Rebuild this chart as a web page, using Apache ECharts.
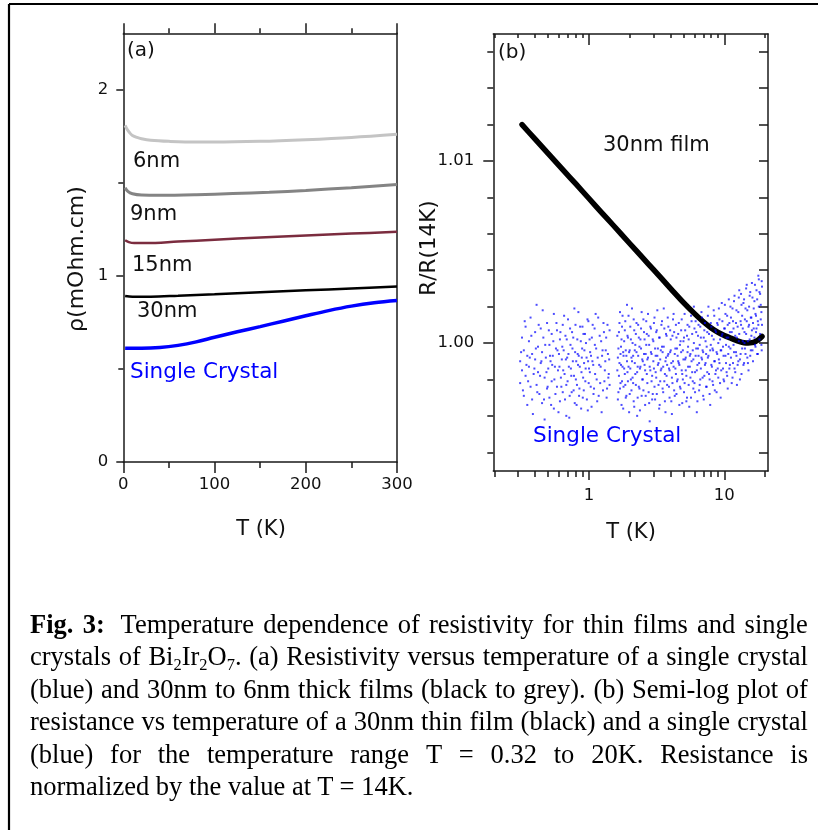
<!DOCTYPE html>
<html><head><meta charset="utf-8">
<script src="https://cdn.jsdelivr.net/npm/echarts@6/dist/echarts.min.js"></script>
<style>
html,body{margin:0;padding:0;background:#fff;}
#wrap{position:relative;width:818px;height:830px;overflow:hidden;background:#fff;}
#chart{position:absolute;left:0;top:0;width:818px;height:830px;}
#caption{position:absolute;left:30px;top:608px;width:778px;font-family:'Liberation Serif','Times New Roman',serif;font-size:26.5px;line-height:32.4px;color:#000;}
.ln{display:flex;justify-content:space-between;white-space:nowrap;}
.last{white-space:nowrap;word-spacing:0;}
sub{font-size:0.62em;vertical-align:baseline;position:relative;top:0.28em;line-height:0;}
</style></head>
<body><div id="wrap"><div id="chart"></div><div id="caption"></div></div>
<script>
// ---------- Panel (a): resistivity (mOhm.cm) vs T (K) ----------
const rho6nm  = [[2,1.810],[4,1.790],[7,1.770],[10,1.756],[15,1.745],[20,1.738],[30,1.730],[50,1.724],[80,1.720],[100,1.720],[150,1.724],[200,1.733],[250,1.745],[300,1.762]];
const rho9nm  = [[2,1.475],[5,1.455],[10,1.442],[20,1.435],[40,1.434],[80,1.437],[120,1.443],[160,1.450],[200,1.460],[250,1.475],[300,1.492]];
const rho15nm = [[2,1.192],[6,1.182],[12,1.177],[25,1.177],[60,1.185],[100,1.195],[150,1.207],[200,1.218],[250,1.228],[300,1.238]];
const rho30nm = [[2,0.893],[10,0.889],[30,0.889],[60,0.894],[100,0.902],[150,0.913],[200,0.923],[250,0.933],[300,0.943]];
const rhoCrystal = [[2,0.612],[20,0.611],[40,0.615],[60,0.627],[80,0.646],[100,0.671],[125,0.700],[150,0.728],[175,0.757],[200,0.786],[225,0.814],[250,0.838],[275,0.856],[300,0.868]];

const seriesNamesA = ['6nm','9nm','15nm','30nm','Single Crystal'];
const ticksAy = [0,1,2];
const minorAy = [0.5,1.5];

// ---------- Panel (b): R/R(14K) vs T (K), log T ----------
const film30 = [[0.32,1.01200],[0.4,1.01120],[0.5,1.01041],[0.65,1.00947],[0.8,1.00874],[1.0,1.00794],[1.25,1.00714],[1.5,1.00650],[2.0,1.00547],[2.5,1.00468],[3.0,1.00403],[3.5,1.00348],[4.2,1.00283],[5.0,1.00222],[6.0,1.00163],[7.0,1.00117],[8.0,1.00083],[9.0,1.00059],[10,1.00042],[11,1.00029],[12,1.00017],[13,1.00008],[14,1.00002],[15,1.00000],[16,1.00002],[17,1.00009],[18,1.00020],[19,1.00036]];

// single crystal, T < 1.5 K : [T, R/R14K]
const crystalLow = [[0.31,0.9990],[0.31,0.9978],[0.32,1.0003],[0.32,0.9985],[0.33,0.9971],[0.33,0.9996],[0.34,1.0009],[0.34,0.9982],[0.35,0.9993],[0.35,0.9966],[0.36,1.0001],[0.36,0.9987],[0.37,0.9976],[0.37,1.0014],[0.38,0.9994],[0.38,0.9969],[0.39,0.9983],[0.40,1.0006],[0.40,0.9991],[0.41,0.9977],[0.41,1.0021],[0.42,0.9998],[0.42,0.9984],[0.43,0.9972],[0.44,1.0008],[0.44,0.9989],[0.45,0.9995],[0.45,0.9967],[0.46,1.0003],[0.47,0.9981],[0.47,0.9958],[0.48,0.9992],[0.49,1.0011],[0.49,0.9975],[0.50,0.9986],[0.51,0.9999],[0.51,0.9970],[0.52,0.9990],[0.53,1.0005],[0.53,0.9979],[0.54,0.9993],[0.55,0.9964],[0.55,1.0016],[0.56,0.9987],[0.57,0.9997],[0.58,0.9976],[0.58,1.0007],[0.59,0.9985],[0.60,0.9994],[0.61,0.9968],[0.61,1.0002],[0.62,0.9981],[0.63,0.9991],[0.64,1.0010],[0.64,0.9973],[0.65,0.9996],[0.66,0.9983],[0.67,1.0004],[0.68,0.9977],[0.68,0.9960],[0.69,0.9992],[0.70,1.0013],[0.71,0.9987],[0.72,0.9971],[0.73,0.9999],[0.74,0.9982],[0.75,1.0006],[0.76,0.9990],[0.77,0.9974],[0.78,1.0019],[0.79,0.9995],[0.80,0.9980],[0.81,0.9966],[0.82,1.0002],[0.83,0.9988],[0.84,0.9993],[0.85,0.9975],[0.86,1.0009],[0.88,0.9984],[0.89,0.9997],[0.90,0.9970],[0.91,1.0005],[0.92,0.9989],[0.94,0.9979],[0.95,1.0000],[0.96,0.9992],[0.98,0.9963],[0.99,1.0012],[1.00,0.9986],[1.02,0.9995],[1.03,0.9976],[1.05,1.0003],[1.06,0.9990],[1.08,0.9972],[1.10,1.0008],[1.11,0.9983],[1.13,0.9997],[1.15,0.9968],[1.17,1.0014],[1.19,0.9988],[1.21,0.9978],[1.23,1.0001],[1.25,0.9993],[1.27,0.9974],[1.29,1.0006],[1.31,0.9985],[1.33,0.9996],[1.35,0.9970],[1.37,1.0010],[1.39,0.9981],[1.41,0.9991],[1.42,0.9977]];
const crystalLow2 = [[0.315,0.9995],[0.325,0.9974],[0.335,1.0012],[0.345,0.9988],[0.355,0.9979],[0.365,0.9992],[0.375,1.0004],[0.385,0.9961],[0.395,0.9986],[0.405,0.9997],[0.415,0.9973],[0.425,1.0010],[0.435,0.9982],[0.445,0.9990],[0.455,1.0018],[0.465,0.9969],[0.475,0.9999],[0.485,0.9984],[0.495,0.9976],[0.505,1.0007],[0.515,0.9993],[0.525,0.9966],[0.535,0.9988],[0.545,1.0001],[0.555,0.9980],[0.565,0.9972],[0.575,1.0011],[0.585,0.9996],[0.595,0.9962],[0.605,0.9987],[0.615,1.0006],[0.625,0.9976],[0.635,0.9998],[0.645,0.9985],[0.655,1.0015],[0.665,0.9969],[0.675,0.9991],[0.685,1.0002],[0.695,0.9979],[0.705,0.9994],[0.715,0.9959],[0.725,1.0008],[0.735,0.9986],[0.745,0.9973],[0.755,0.9997],[0.765,1.0003],[0.775,0.9982],[0.785,0.9967],[0.795,1.0010],[0.805,0.9990],[0.815,0.9977],[0.825,0.9994],[0.835,1.0017],[0.845,0.9971],[0.855,0.9987],[0.87,1.0001],[0.875,0.9964],[0.885,0.9992],[0.895,1.0009],[0.905,0.9981],[0.915,0.9974],[0.925,0.9996],[0.935,1.0005],[0.945,0.9986],[0.965,0.9969],[0.975,1.0013],[0.985,0.9990],[0.995,0.9978],[1.01,1.0002],[1.015,0.9984],[1.035,0.9993],[1.045,0.9965],[1.065,1.0010],[1.075,0.9988],[1.09,0.9975],[1.105,0.9999],[1.12,1.0016],[1.14,0.9980],[1.16,0.9992],[1.18,0.9971],[1.20,1.0004],[1.22,0.9987],[1.24,0.9962],[1.26,0.9996],[1.28,1.0011],[1.30,0.9979],[1.32,0.9990],[1.34,1.0003],[1.36,0.9975],[1.38,0.9994],[1.40,0.9983],[1.42,1.0007]];

// single crystal, T > 1.6 K : [T, R/R14K (point 1), R/R14K (point 2)]
const crystalHigh = [[1.62,0.9985,1.0004],[1.65,0.9997,0.9973],[1.68,1.0011,0.9989],[1.71,0.9978,0.9994],[1.74,1.0002,0.9966],[1.77,0.9987,1.0015],[1.80,0.9993,0.9976],[1.84,1.0007,0.9983],[1.87,0.9970,0.9996],[1.91,0.9990,1.0021],[1.94,0.9979,1.0003],[1.98,0.9995,0.9962],[2.02,1.0009,0.9986],[2.06,0.9974,0.9992],[2.10,1.0000,0.9981],[2.14,0.9968,1.0013],[2.18,0.9989,0.9996],[2.22,1.0005,0.9977],[2.27,0.9984,0.9960],[2.31,0.9993,1.0010],[2.36,0.9975,0.9998],[2.40,1.0002,0.9987],[2.45,0.9971,1.0017],[2.50,0.9990,0.9980],[2.55,1.0006,0.9994],[2.60,0.9966,0.9985],[2.65,0.9999,1.0012],[2.70,0.9978,0.9991],[2.76,1.0004,0.9973],[2.81,0.9987,0.9957],[2.87,0.9995,1.0008],[2.93,0.9982,0.9969],[2.99,1.0001,0.9990],[3.05,0.9976,1.0014],[3.11,0.9993,0.9984],[3.17,1.0007,0.9972],[3.23,0.9988,0.9997],[3.30,0.9964,1.0003],[3.36,0.9991,0.9979],[3.43,1.0010,0.9986],[3.50,0.9975,0.9995],[3.57,0.9998,1.0019],[3.64,0.9983,0.9968],[3.71,1.0005,0.9992],[3.78,0.9977,0.9988],[3.86,0.9994,1.0009],[3.94,0.9970,0.9985],[4.02,1.0002,0.9996],[4.10,0.9981,0.9961],[4.18,0.9990,1.0013],[4.26,1.0006,0.9974],[4.35,0.9986,0.9997],[4.43,0.9972,1.0003],[4.52,0.9993,0.9980],[4.61,1.0011,0.9989],[4.70,0.9976,0.9999],[4.80,0.9995,1.0007],[4.89,0.9983,0.9967],[4.99,1.0001,0.9991],[5.09,0.9978,1.0016],[5.19,0.9992,0.9985],[5.30,1.0004,0.9970],[5.40,0.9987,0.9998],[5.51,0.9965,1.0009],[5.62,0.9994,0.9981],[5.73,1.0012,0.9990],[5.85,0.9979,0.9996],[5.96,1.0000,1.0020],[6.08,0.9984,0.9973],[6.20,0.9997,1.0006],[6.33,0.9988,0.9968],[6.45,1.0010,0.9993],[6.58,0.9977,0.9999],[6.71,1.0003,0.9986],[6.85,0.9991,1.0014],[6.98,0.9971,0.9995],[7.12,1.0007,0.9982],[7.27,0.9989,1.0001],[7.41,0.9998,0.9976],[7.56,1.0015,0.9992],[7.71,0.9983,1.0005],[7.87,0.9996,0.9966],[8.02,1.0009,0.9988],[8.18,0.9979,0.9997],[8.35,1.0002,1.0018],[8.51,0.9990,0.9974],[8.68,1.0006,0.9985],[8.86,0.9994,1.0011],[9.03,0.9981,1.0000],[9.21,1.0013,0.9989],[9.40,0.9996,0.9970],[9.58,1.0004,1.0022],[9.78,0.9986,0.9998],[9.97,1.0008,0.9979],[10.2,0.9993,1.0016],[10.4,1.0003,0.9984],[10.6,0.9975,1.0010],[10.8,0.9998,1.0024],[11.0,1.0006,0.9988],[11.2,0.9992,1.0014],[11.5,1.0019,0.9981],[11.7,0.9999,1.0008],[11.9,0.9986,1.0026],[12.2,1.0011,0.9995],[12.4,0.9977,1.0003],[12.7,1.0017,0.9990],[12.9,1.0005,1.0029],[13.2,0.9994,1.0012],[13.4,1.0021,0.9983],[13.7,1.0001,1.0008],[14.0,0.9989,1.0024],[14.2,1.0013,0.9997],[14.5,1.0030,1.0005],[14.8,0.9992,1.0018],[15.1,1.0009,0.9985],[15.4,1.0026,1.0002],[15.7,0.9996,1.0014],[16.0,1.0033,1.0007],[16.3,1.0011,0.9990],[16.7,1.0023,1.0003],[17.0,0.9998,1.0016],[17.3,1.0029,1.0008],[17.7,1.0012,0.9994],[18.0,1.0035,1.0020],[18.4,1.0005,1.0027],[18.8,1.0017,0.9999],[19.0,1.0031,1.0010]];
const crystalHigh2 = [[1.635,0.9992,0.9969],[1.665,1.0006,0.9982],[1.695,0.9975,1.0017],[1.725,0.9988,0.9998],[1.755,1.0009,0.9979],[1.79,0.9964,0.9995],[1.82,1.0001,0.9986],[1.855,0.9977,1.0012],[1.89,0.9993,0.9971],[1.925,1.0004,0.9984],[1.96,0.9987,1.0015],[2.00,0.9972,0.9996],[2.04,1.0002,0.9980],[2.08,0.9990,1.0019],[2.12,0.9978,0.9993],[2.16,1.0007,0.9965],[2.20,0.9983,0.9999],[2.245,0.9995,1.0011],[2.29,0.9970,0.9987],[2.335,1.0003,0.9976],[2.38,0.9986,0.9963],[2.425,0.9997,1.0008],[2.475,0.9980,0.9991],[2.525,1.0013,0.9974],[2.575,0.9988,1.0002],[2.625,0.9971,0.9994],[2.675,1.0005,0.9983],[2.73,0.9992,1.0016],[2.785,0.9967,0.9999],[2.84,1.0009,0.9985],[2.90,0.9979,0.9994],[2.96,1.0002,0.9972],[3.02,0.9986,1.0011],[3.08,0.9969,0.9997],[3.14,1.0006,0.9981],[3.20,0.9993,1.0018],[3.265,0.9977,0.9989],[3.33,1.0003,0.9966],[3.395,0.9985,0.9996],[3.465,0.9998,1.0012],[3.535,0.9973,0.9987],[3.605,1.0008,0.9979],[3.675,0.9990,0.9962],[3.745,0.9982,1.0004],[3.82,1.0014,0.9993],[3.90,0.9976,0.9986],[3.98,0.9995,1.0007],[4.06,0.9968,0.9989],[4.14,1.0004,0.9978],[4.22,0.9987,1.0016],[4.305,0.9994,0.9971],[4.39,1.0010,0.9983],[4.475,0.9979,0.9997],[4.565,0.9990,1.0005],[4.655,0.9966,0.9988],[4.75,1.0001,0.9975],[4.845,0.9985,1.0013],[4.94,0.9996,0.9980],[5.04,0.9973,1.0003],[5.14,1.0007,0.9991],[5.245,0.9982,0.9968],[5.35,0.9995,1.0010],[5.455,1.0002,0.9977],[5.565,0.9987,0.9993],[5.675,0.9970,1.0015],[5.79,1.0005,0.9984],[5.905,0.9991,0.9975],[6.02,0.9978,1.0008],[6.14,1.0012,0.9993],[6.265,0.9985,0.9962],[6.39,0.9997,1.0004],[6.515,0.9974,0.9989],[6.645,1.0009,0.9980],[6.78,0.9992,1.0017],[6.915,0.9981,0.9996],[7.05,1.0003,0.9969],[7.195,0.9988,1.0011],[7.34,0.9976,0.9994],[7.485,1.0006,0.9984],[7.635,0.9993,1.0020],[7.79,0.9980,0.9972],[7.945,1.0011,0.9999],[8.10,0.9987,1.0004],[8.265,0.9996,0.9977],[8.43,1.0015,0.9990],[8.595,0.9983,1.0007],[8.77,0.9973,0.9995],[8.945,1.0010,0.9986],[9.12,0.9991,1.0019],[9.305,1.0002,0.9978],[9.49,0.9985,0.9996],[9.68,1.0012,1.0005],[9.875,0.9980,0.9993],[10.1,1.0008,1.0021],[10.3,0.9989,0.9999],[10.5,1.0015,0.9982],[10.7,1.0003,0.9994],[10.9,0.9986,1.0011],[11.1,1.0020,0.9997],[11.35,0.9978,1.0006],[11.6,1.0012,0.9989],[11.8,0.9995,1.0023],[12.05,1.0004,0.9984],[12.3,1.0018,0.9993],[12.55,0.9988,1.0009],[12.8,1.0025,1.0001],[13.05,0.9991,0.9980],[13.3,1.0010,1.0027],[13.55,0.9997,1.0015],[13.85,1.0022,0.9988],[14.1,1.0006,1.0000],[14.35,0.9994,1.0019],[14.65,1.0012,1.0032],[14.95,1.0001,0.9989],[15.25,1.0020,1.0010],[15.55,0.9993,1.0028],[15.85,1.0014,1.0004],[16.15,1.0025,0.9996],[16.5,1.0008,1.0019],[16.85,1.0032,0.9999],[17.15,1.0015,1.0006],[17.5,0.9994,1.0024],[17.85,1.0010,1.0037],[18.2,1.0028,1.0002],[18.6,1.0013,1.0021],[18.9,0.9996,1.0034]];

const ticksBx = [1,10];
const minorBx = [0.2,0.3,0.4,0.5,0.6,0.7,0.8,0.9,2,3,4,5,6,7,8,9,20];
const ticksBy = [1.00,1.01];
const minorBy = [0.994,0.996,0.998,1.002,1.004,1.006,1.008,1.012,1.014,1.016];
const allBy = [0.994,0.996,0.998,1.000,1.002,1.004,1.006,1.008,1.010,1.012,1.014,1.016];

// ---------- Caption ----------
const captionLines = [
  '<b>Fig.</b> <b>3:</b>&nbsp; Temperature dependence of resistivity for thin films and single',
  'crystals of Bi<sub>2</sub>Ir<sub>2</sub>O<sub>7</sub>. (a) Resistivity versus temperature of a single crystal',
  '(blue) and 30nm to 6nm thick films (black to grey). (b) Semi-log plot of',
  'resistance vs temperature of a 30nm thin film (black) and a single crystal',
  '(blue) for the temperature range T = 0.32 to 20K. Resistance is',
  'normalized by the value at T = 14K.'
];

(function(){
  const cap = document.getElementById('caption');
  captionLines.forEach((line, i) => {
    const d = document.createElement('div');
    if (i < captionLines.length - 1) {
      d.className = 'ln';
      line.split(' ').forEach(w => { const s = document.createElement('span'); s.innerHTML = w; d.appendChild(s); });
    } else {
      d.className = 'last';
      d.innerHTML = line;
    }
    cap.appendChild(d);
  });
})();

const crystalPoints = crystalLow.concat(
  crystalLow2,
  crystalHigh.map(r => [r[0], r[1]]),
  crystalHigh.map(r => [r[0], r[2]]),
  crystalHigh2.map(r => [r[0], r[1]]),
  crystalHigh2.map(r => [r[0], r[2]])
);

const FONT = 'DejaVu Sans';
const AX = '#1a1a1a';
const axLine = {show:true, onZero:false, lineStyle:{color:AX, width:1.5}};
const noSplit = {show:false};

const xMinB = 0.1963, xMaxB = 21.04;
const yMinA = 0, yMaxA = 2.305;
const yMinB = 0.99297, yMaxB = 1.01698;

const chart = echarts.init(document.getElementById('chart'), null, {renderer:'canvas'});

const lineSeries = (name, data, color, width) => ({
  name, type:'line', xAxisIndex:0, yAxisIndex:0, data, smooth:0.35, showSymbol:false, symbol:'none',
  lineStyle:{color, width}, z:2, animation:false
});

const tickLbl = {fontSize:16.5, color:'#111', fontFamily:FONT};

const option = {
  animation:false,
  backgroundColor:'#fff',
  textStyle:{fontFamily:FONT, color:'#111'},
  grid:[
    {left:123.3, top:33.3, width:273.7, height:428.7, outerBoundsMode:'none', containLabel:false},
    {left:493.3, top:34, width:274.7, height:437, outerBoundsMode:'none', containLabel:false}
  ],
  xAxis:[
    {gridIndex:0, type:'value', position:'bottom', min:0, max:300, interval:100,
      axisLine:axLine,
      axisTick:{show:true, inside:false, length:11, lineStyle:{color:AX, width:1.5}},
      minorTick:{show:true, splitNumber:2, length:6, lineStyle:{color:AX, width:1.5}},
      axisLabel:Object.assign({show:true, margin:14}, tickLbl),
      splitLine:noSplit, minorSplitLine:noSplit},
    {gridIndex:0, type:'value', position:'top', min:0, max:300, interval:100,
      axisLine:axLine,
      axisTick:{show:true, inside:false, length:10, lineStyle:{color:AX, width:1.5}},
      minorTick:{show:true, splitNumber:2, length:5, lineStyle:{color:AX, width:1.5}},
      axisLabel:{show:false}, splitLine:noSplit, minorSplitLine:noSplit},
    {gridIndex:1, type:'log', logBase:10, position:'bottom', min:xMinB, max:xMaxB,
      axisLine:axLine,
      axisTick:{show:true, inside:false, length:9, customValues:ticksBx, lineStyle:{color:AX, width:1.5}},
      axisLabel:Object.assign({show:true, customValues:ticksBx, margin:16}, tickLbl),
      splitLine:noSplit, minorTick:{show:false}},
    {gridIndex:1, type:'log', logBase:10, position:'bottom', min:xMinB, max:xMaxB,
      axisLine:{show:false, onZero:false},
      axisTick:{show:true, inside:false, length:6, customValues:minorBx, lineStyle:{color:AX, width:1.5}},
      axisLabel:{show:false}, splitLine:noSplit},
    {gridIndex:1, type:'log', logBase:10, position:'top', min:xMinB, max:xMaxB,
      axisLine:axLine,
      axisTick:{show:true, inside:true, length:11, customValues:ticksBx, lineStyle:{color:AX, width:1.5}},
      axisLabel:{show:false}, splitLine:noSplit},
    {gridIndex:1, type:'log', logBase:10, position:'top', min:xMinB, max:xMaxB,
      axisLine:{show:false, onZero:false},
      axisTick:{show:true, inside:true, length:4, customValues:minorBx, lineStyle:{color:AX, width:1.5}},
      axisLabel:{show:false}, splitLine:noSplit}
  ],
  yAxis:[
    {gridIndex:0, type:'value', position:'left', min:yMinA, max:yMaxA,
      axisLine:axLine,
      axisTick:{show:true, inside:false, length:7, customValues:ticksAy, lineStyle:{color:AX, width:1.5}},
      axisLabel:Object.assign({show:true, customValues:ticksAy, margin:15}, tickLbl),
      splitLine:noSplit},
    {gridIndex:0, type:'value', position:'left', min:yMinA, max:yMaxA,
      axisLine:{show:false, onZero:false},
      axisTick:{show:true, inside:false, length:5, customValues:minorAy, lineStyle:{color:AX, width:1.5}},
      axisLabel:{show:false}, splitLine:noSplit},
    {gridIndex:0, type:'value', position:'right', min:yMinA, max:yMaxA,
      axisLine:axLine, axisTick:{show:false}, axisLabel:{show:false}, splitLine:noSplit},
    {gridIndex:1, type:'value', position:'left', min:yMinB, max:yMaxB,
      axisLine:axLine,
      axisTick:{show:true, inside:false, length:10, customValues:ticksBy, lineStyle:{color:AX, width:1.5}},
      axisLabel:Object.assign({show:true, customValues:ticksBy, margin:19,
        formatter:v => Number(v).toFixed(2)}, tickLbl),
      splitLine:noSplit},
    {gridIndex:1, type:'value', position:'left', min:yMinB, max:yMaxB,
      axisLine:{show:false, onZero:false},
      axisTick:{show:true, inside:false, length:6, customValues:minorBy, lineStyle:{color:AX, width:1.5}},
      axisLabel:{show:false}, splitLine:noSplit},
    {gridIndex:1, type:'value', position:'right', min:yMinB, max:yMaxB,
      axisLine:axLine,
      axisTick:{show:true, inside:true, length:9, customValues:allBy, lineStyle:{color:AX, width:1.5}},
      axisLabel:{show:false}, splitLine:noSplit}
  ],
  series:[
    lineSeries(seriesNamesA[0], rho6nm, '#c4c4c4', 3),
    lineSeries(seriesNamesA[1], rho9nm, '#848484', 3),
    lineSeries(seriesNamesA[2], rho15nm, '#7b2c3f', 2.5),
    lineSeries(seriesNamesA[3], rho30nm, '#000000', 2.5),
    lineSeries(seriesNamesA[4], rhoCrystal, '#0000ff', 3.5),
    {name:'30nm film', type:'line', xAxisIndex:2, yAxisIndex:3, data:film30, smooth:0.2,
      showSymbol:false, symbol:'none', lineStyle:{color:'#000', width:5.5, cap:'round', join:'round'}, z:2},
    {name:'Single Crystal (b)', type:'scatter', xAxisIndex:2, yAxisIndex:3, data:crystalPoints,
      symbol:'rect', symbolSize:2, itemStyle:{color:'#0000ff', opacity:0.7}, z:3, silent:true, large:false}
  ],
  graphic:[
    {type:'line', shape:{x1:9, y1:4, x2:818, y2:4}, style:{stroke:'#000', lineWidth:2.2}, z:10},
    {type:'line', shape:{x1:9, y1:4, x2:9, y2:830}, style:{stroke:'#000', lineWidth:2.2}, z:10},
    // panel (a) annotations
    {type:'text', x:127, y:51, style:{text:'(a)', font:'20px "DejaVu Sans"', fill:'#111', verticalAlign:'middle', align:'left'}},
    {type:'text', x:133, y:162, style:{text:'6nm', font:'21px "DejaVu Sans"', fill:'#111', verticalAlign:'middle', align:'left'}},
    {type:'text', x:130, y:215, style:{text:'9nm', font:'21px "DejaVu Sans"', fill:'#111', verticalAlign:'middle', align:'left'}},
    {type:'text', x:132, y:266, style:{text:'15nm', font:'21px "DejaVu Sans"', fill:'#111', verticalAlign:'middle', align:'left'}},
    {type:'text', x:137, y:312, style:{text:'30nm', font:'21px "DejaVu Sans"', fill:'#111', verticalAlign:'middle', align:'left'}},
    {type:'text', x:130, y:372, style:{text:'Single Crystal', font:'21.5px "DejaVu Sans"', fill:'#0000ff', verticalAlign:'middle', align:'left'}},
    {type:'text', x:261, y:530, style:{text:'T (K)', font:'21px "DejaVu Sans"', fill:'#111', verticalAlign:'middle', align:'center'}},
    {type:'text', x:77, y:259, rotation:Math.PI/2, style:{text:'ρ(mOhm.cm)', font:'22px "DejaVu Sans"', fill:'#111', verticalAlign:'middle', align:'center'}},
    // panel (b) annotations
    {type:'text', x:498, y:53, style:{text:'(b)', font:'20px "DejaVu Sans"', fill:'#111', verticalAlign:'middle', align:'left'}},
    {type:'text', x:603, y:146, style:{text:'30nm film', font:'21px "DejaVu Sans"', fill:'#111', verticalAlign:'middle', align:'left'}},
    {type:'text', x:533, y:436, style:{text:'Single Crystal', font:'21.5px "DejaVu Sans"', fill:'#0000ff', verticalAlign:'middle', align:'left'}},
    {type:'text', x:631, y:533, style:{text:'T (K)', font:'21px "DejaVu Sans"', fill:'#111', verticalAlign:'middle', align:'center'}},
    {type:'text', x:429, y:248, rotation:Math.PI/2, style:{text:'R/R(14K)', font:'21.5px "DejaVu Sans"', fill:'#111', verticalAlign:'middle', align:'center'}}
  ]
};
chart.setOption(option);
</script></body></html>
